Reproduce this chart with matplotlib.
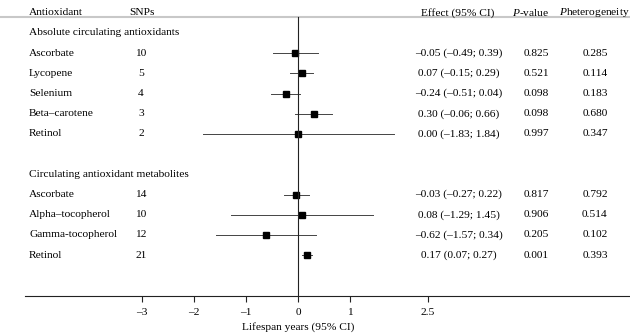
import matplotlib.pyplot as plt
import matplotlib.transforms as mtransforms

plt.rcParams['font.family'] = ['Liberation Serif', 'DejaVu Serif']
plt.rcParams['mathtext.fontset'] = 'custom'
plt.rcParams['mathtext.rm'] = 'Liberation Serif'
plt.rcParams['mathtext.it'] = 'Liberation Serif:italic'

# data
groups = ["Absolute circulating antioxidants", "Circulating antioxidant metabolites"]
names_abs = ["Ascorbate", "Lycopene", "Selenium", "Beta–carotene", "Retinol"]
snps_abs = [10, 5, 4, 3, 2]
est_abs = [-0.05, 0.07, -0.24, 0.30, 0.00]
lo_abs = [-0.49, -0.15, -0.51, -0.06, -1.83]
hi_abs = [0.39, 0.29, 0.04, 0.66, 1.84]
p_abs = ["0.825", "0.521", "0.098", "0.098", "0.997"]
phet_abs = ["0.285", "0.114", "0.183", "0.680", "0.347"]

names_met = ["Ascorbate", "Alpha–tocopherol", "Gamma-tocopherol", "Retinol"]
snps_met = [14, 10, 12, 21]
est_met = [-0.03, 0.08, -0.62, 0.17]
lo_met = [-0.27, -1.29, -1.57, 0.07]
hi_met = [0.22, 1.45, 0.34, 0.27]
p_met = ["0.817", "0.906", "0.205", "0.001"]
phet_met = ["0.792", "0.514", "0.102", "0.393"]

xticks = [-3, -2, -1, 0, 1, 2.5]
xticklabels = ["–3", "–2", "–1", "0", "1", "2.5"]

W, H = 630, 333
fig = plt.figure(figsize=(W / 100, H / 100), dpi=100)
ax = fig.add_axes([0, 0, 1, 1])

# pixel -> data mapping: x = (px - 298) / 52, row pitch 20.2 px starting at 33 px
x0, xs = 298, 52
y0, ys = 33, 20.2
ax.set_xlim((0 - x0) / xs, (W - x0) / xs)
ax.set_ylim((H - y0) / ys, (0 - y0) / ys)

trans = mtransforms.blended_transform_factory(fig.transFigure, ax.transData)
fs = 8.2
ink = '#222222'


def fmt(v):
    s = f"{abs(v):.2f}"
    return ("–" + s) if v < 0 else s


def draw_group(start, title, names, snps, est, lo, hi, pv, ph):
    ax.text(29 / W, start, title, transform=trans, fontsize=fs, va='center')
    for i in range(len(names)):
        r = start + 1 + i
        ax.text(29 / W, r, names[i], transform=trans, fontsize=fs, va='center')
        ax.text(141 / W, r, str(snps[i]), transform=trans, fontsize=fs, va='center', ha='center')
        ax.plot([lo[i], hi[i]], [r, r], color='#444444', lw=0.7)
        ax.plot(est[i], r, marker='s', color='black', ms=4.8)
        lab = f"{fmt(est[i])} ({fmt(lo[i])}; {fmt(hi[i])})"
        ax.text(458.5 / W, r, lab, transform=trans, fontsize=fs, va='center', ha='center')
        ax.text(536 / W, r, pv[i], transform=trans, fontsize=fs, va='center', ha='center')
        ax.text(595 / W, r, ph[i], transform=trans, fontsize=fs, va='center', ha='center')


draw_group(0, groups[0], names_abs, snps_abs, est_abs, lo_abs, hi_abs, p_abs, phet_abs)
draw_group(len(names_abs) + 2, groups[1], names_met, snps_met, est_met, lo_met, hi_met, p_met, phet_met)

# header
hy = -1
ax.text(29 / W, hy, "Antioxidant", transform=trans, fontsize=fs, va='center')
ax.text(129 / W, hy, "SNPs", transform=trans, fontsize=fs, va='center')
ax.text(458 / W, hy, "Effect (95% CI)", transform=trans, fontsize=fs, va='center', ha='center')
ax.text(531 / W, hy, "$P$-value", transform=trans, fontsize=fs, va='center', ha='center')
ax.text(594 / W, hy, "$P$heterogeneity", transform=trans, fontsize=fs, va='center', ha='center')
ax.plot([0, 1], [-0.79, -0.79], transform=trans, color='#c8c8c8', lw=1.5)

# zero line and x axis
axis_y = 13
ax.plot([0, 0], [-0.79, axis_y], color=ink, lw=0.8)
for s in ['top', 'left', 'right']:
    ax.spines[s].set_visible(False)
ax.spines['bottom'].set_position(('data', axis_y))
ax.spines['bottom'].set_bounds((25 - x0) / xs, (W - x0) / xs)
ax.spines['bottom'].set_linewidth(0.8)
ax.spines['bottom'].set_color(ink)
ax.set_yticks([])
ax.set_xticks(xticks)
ax.set_xticklabels(xticklabels, fontsize=fs)
ax.tick_params(axis='x', direction='out', length=4, width=0.8, pad=5, color=ink)
ax.text(0, 14.55, "Lifespan years (95% CI)", fontsize=fs, ha='center', va='center')

fig.savefig("out.png", dpi=100)
